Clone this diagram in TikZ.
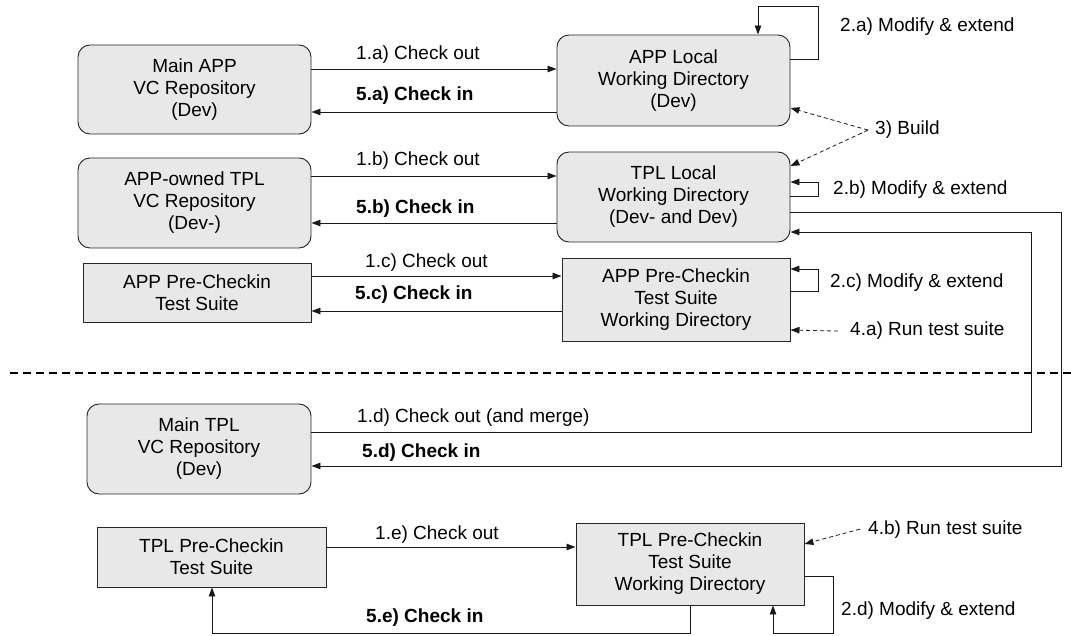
\documentclass[tikz,border=0pt]{standalone}
\usepackage{fontspec}
\setmainfont{Liberation Sans}
\usepackage{tikz}
\usetikzlibrary{arrows.meta,shapes}

\begin{document}
\begin{tikzpicture}[x=1pt, y=-1pt, >={Triangle[length=9pt,width=6.5pt]},
  box/.style={draw=black!85, fill=black!9, line width=0.95pt, align=center, inner sep=0pt, font=\fontsize{19}{22}\selectfont},
  repo/.style={box, rounded corners=12pt},
  suite/.style={box, rectangle},
  lbl/.style={anchor=base west, inner sep=0pt, font=\fontsize{19}{22}\selectfont},
  blbl/.style={lbl, font=\fontsize{19}{22}\selectfont\bfseries},
  flow/.style={->, line width=0.9pt, black!90},
  hint/.style={->, line width=0.8pt, dash pattern=on 4pt off 3pt, black!90}]
\useasboundingbox (0,0) rectangle (1071,636);

\node[repo, minimum width=233pt, minimum height=89pt] (mainapp) at (194.5,89.5) {Main APP\\VC Repository\\(Dev)};
\node[repo, minimum width=233pt, minimum height=90pt] (appowned) at (194.5,203) {APP-owned TPL\\VC Repository\\(Dev-)};
\node[suite, minimum width=228pt, minimum height=59pt] (apptest) at (197,292.5) {APP Pre-Checkin\\Test Suite};
\node[repo, minimum width=233pt, minimum height=91pt] (applocal) at (673.5,80.5) {APP Local\\Working Directory\\(Dev)};
\node[repo, minimum width=233pt, minimum height=90pt] (tpllocal) at (673.5,197) {TPL Local\\Working Directory\\(Dev- and Dev)};
\node[suite, minimum width=228pt, minimum height=83pt] (appwd) at (676,299.5) {APP Pre-Checkin\\Test Suite\\Working Directory};
\node[repo, minimum width=224pt, minimum height=90pt] (maintpl) at (199,449) {Main TPL\\VC Repository\\(Dev)};
\node[suite, minimum width=229pt, minimum height=60pt] (tpltest) at (211.5,557) {TPL Pre-Checkin\\Test Suite};
\node[suite, minimum width=228pt, minimum height=82pt] (tplwd) at (690,564) {TPL Pre-Checkin\\Test Suite\\Working Directory};

\node[lbl] (l1a) at (356,60) {1.a) Check out};
\node[blbl] (l5a) at (356,101) {5.a) Check in};
\node[lbl] (l1b) at (356,166) {1.b) Check out};
\node[blbl] (l5b) at (356,214) {5.b) Check in};
\node[lbl] (l1c) at (365,268) {1.c) Check out};
\node[blbl] (l5c) at (355,300) {5.c) Check in};
\node[lbl] (l1d) at (357,422) {1.d) Check out (and merge)};
\node[blbl] (l5d) at (362,457) {5.d) Check in};
\node[lbl] (l1e) at (375,539) {1.e) Check out};
\node[blbl] (l5e) at (366,622) {5.e) Check in};
\node[lbl] (l2a) at (840,32) {2.a) Modify \& extend};
\node[lbl] (build) at (875,135) {3) Build};
\node[lbl] (l2b) at (833,195) {2.b) Modify \& extend};
\node[lbl] (l2c) at (830,288) {2.c) Modify \& extend};
\node[lbl] (l4a) at (850,336) {4.a) Run test suite};
\node[lbl] (l4b) at (868,534) {4.b) Run test suite};
\node[lbl] (l2d) at (841,615) {2.d) Modify \& extend};

\draw[flow] (mainapp.east |- 0,69) -- (applocal.west |- 0,69);
\draw[flow] (applocal.west |- 0,112) -- (mainapp.east |- 0,112);
\draw[flow] (appowned.east |- 0,176) -- (tpllocal.west |- 0,176);
\draw[flow] (tpllocal.west |- 0,223) -- (appowned.east |- 0,223);
\draw[flow] (apptest.east |- 0,276) -- (appwd.west |- 0,276);
\draw[flow] (appwd.west |- 0,311) -- (apptest.east |- 0,311);
\draw[flow] (applocal.east |- 0,59) -| (818,6) -| (applocal.north -| 758,0);
\draw[flow] (tpllocal.east |- 0,196) -| (818,182) -- (tpllocal.east |- 0,182);
\draw[flow] (appwd.east |- 0,291) -| (818,269) -- (appwd.east |- 0,269);
\draw[hint] ([xshift=-7pt]build.west) -- (applocal.east |- 0,108);
\draw[hint] ([xshift=-7pt]build.west) -- (tpllocal.east |- 0,166);
\draw[hint] ([xshift=-12pt]l4a.west) -- (appwd.east |- 0,330);
\draw[line width=1.1pt, dash pattern=on 8pt off 5pt] (10,373) -- (1071,373);
\draw[flow] (maintpl.east |- 0,432) -| (1031,232) -- (tpllocal.east |- 0,232);
\draw[flow] (tpllocal.east |- 0,212) -| (1061,466) -- (maintpl.east |- 0,466);
\draw[flow] (tpltest.east |- 0,547) -- (tplwd.west |- 0,547);
\draw[hint] ([xshift=-8pt]l4b.west) -- (tplwd.east |- 0,544);
\draw[flow] (tplwd.east |- 0,576) -| (833,633) -| (tplwd.south -| 773,0);
\draw[flow] (tplwd.south -| 690,0) -- (690,633) -| (tpltest.south -| 212,0);
\end{tikzpicture}
\end{document}
